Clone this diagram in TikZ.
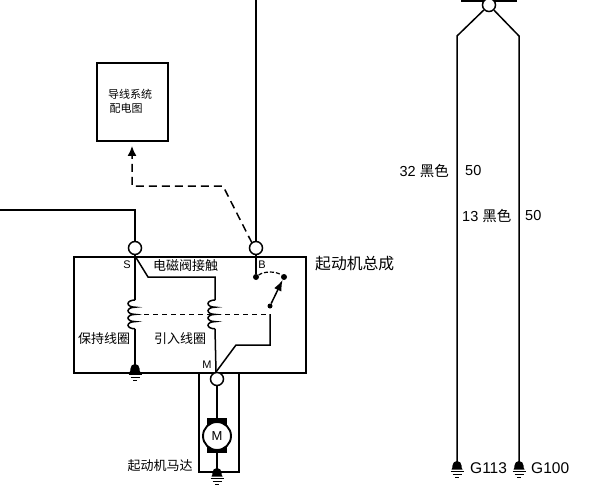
\documentclass[tikz,border=0pt]{standalone}
\usepackage{fontspec}
\setmainfont{Liberation Sans}
\newfontfamily\cjk{Noto Sans CJK SC}
\usetikzlibrary{arrows.meta}
\tikzset{
  wire/.style={line width=1.5pt,line join=miter},
  heavy/.style={line width=2.1pt},
  dashwire/.style={line width=1.5pt,dash pattern=on 8pt off 5pt},
  term/.style={circle,draw,line width=1.5pt,fill=white,minimum size=13pt,inner sep=0pt},
  dotn/.style={circle,fill=black,minimum size=6pt,inner sep=0pt},
  lab/.style={inner sep=0pt,font=\cjk\fontsize{13}{14}\selectfont},
  smalllab/.style={inner sep=0pt,font=\cjk\fontsize{11}{12}\selectfont},
  pin/.style={inner sep=0pt,font=\fontsize{11}{12}\selectfont},
  glab/.style={inner sep=0pt,anchor=west,font=\fontsize{14.5}{15}\selectfont},
  ground/.pic={
    \fill (-5.5,3.5) .. controls (-4.5,2.5) and (-4.5,1) .. (-4.5,-0.5) arc[start angle=180,end angle=0,radius=4.5pt] .. controls (4.5,1) and (4.5,2.5) .. (5.5,3.5) -- cycle;
    \draw[line width=1.3pt] (-6.5,5.5)--(6.5,5.5);
    \draw[line width=1.3pt] (-4.5,8.5)--(4.5,8.5);
    \draw[line width=1.3pt] (-2,11.5)--(2,11.5);
  }
}
\newcommand{\coilarcs}{arc[start angle=90,end angle=270,x radius=7pt,y radius=3.6pt] arc[start angle=90,end angle=270,x radius=7pt,y radius=3.6pt] arc[start angle=90,end angle=270,x radius=7pt,y radius=3.6pt] arc[start angle=90,end angle=270,x radius=7pt,y radius=3.6pt]}
\begin{document}
\begin{tikzpicture}[x=1pt,y=-1pt]
\useasboundingbox (0,0) rectangle (607,497);
% coordinates
\coordinate (w1) at (0,210);
\coordinate (w2) at (135,210);
\coordinate (w3) at (256,0);
\coordinate (sjoin) at (135,256);
\coordinate (s2) at (148,277);
\coordinate (s3) at (215,277);
\coordinate (s4) at (215,300);
\coordinate (c1a) at (135,300);
\coordinate (c1b) at (135,328.8);
\coordinate (c2b) at (215,328.8);
\coordinate (mjoin) at (216,372);
\coordinate (g1) at (135,369);
\coordinate (a1) at (270,345);
\coordinate (a2) at (236,345);
\coordinate (d1) at (135,314);
\coordinate (d2) at (270,314);
\coordinate (darr) at (132,146);
\coordinate (dc1) at (132,186);
\coordinate (dc2) at (223,186);
\coordinate (dc3) at (252,243);
\coordinate (bl) at (199,372);
\coordinate (bl2) at (199,472);
\coordinate (br2) at (239,472);
\coordinate (br) at (239,372);
\coordinate (g2) at (217,473);
\coordinate (tl) at (457,36);
\coordinate (tr) at (519,36);
\coordinate (gl) at (457,466);
\coordinate (gr) at (519,466);
% assembly box
\node[draw,heavy,minimum width=232pt,minimum height=116pt,inner sep=0pt,anchor=north west] (asm) at (73,256) {};
% left box
\node[draw,heavy,minimum width=71pt,minimum height=78pt,inner sep=0pt,anchor=north west] (sysbox) at (96,62) {};
% motor leads
\draw[heavy] (bl)--(bl2)--(br2)--(br);
% top bar
\draw[line width=2.4pt] (461,1)--(517,1);
% terminals
\node[term] (S) at (135,248) {};
\node[term] (B) at (256,248) {};
\node[term] (Mt) at (217,379) {};
\node[term] (top) at (489,5) {};
% wires
\draw[wire] (w1)--(w2)--(S);
\draw[wire] (w3)--(B);
\draw[wire] (S)--(sjoin)--(c1a);
\draw[wire] (c1a) \coilarcs;
\draw[wire] (c1b)--(g1);
\draw[wire] (sjoin)--(s2)--(s3)--(s4);
\draw[wire] (s4) \coilarcs;
\draw[wire] (c2b)--(mjoin);
\draw[wire] (mjoin)--(a2)--(a1)--(d2);
\draw[line width=1pt,dash pattern=on 5pt off 4pt] (d1)--(d2);
% switch
\node[dotn] (bd) at (256,277) {};
\node[dotn] (ad) at (284,277) {};
\node[dotn,minimum size=5pt] (pd) at (270,306) {};
\draw[wire] (B)--(bd);
\draw[line width=1.2pt,dash pattern=on 4pt off 2pt] (bd) .. controls (264,271) and (276,271) .. (ad);
\draw[wire,-{Latex[length=11pt,width=8pt]}] (pd)--(ad);
% dashed link
\draw[dashwire,-{Latex[length=10pt,width=9pt]}] (dc3)--(dc2)--(dc1)--(darr);
% motor
\node[fill=black,minimum width=20pt,minimum height=35pt,inner sep=0pt] (mb) at (217,435.5) {};
\node[circle,draw,line width=1.9pt,fill=white,minimum size=28pt,inner sep=0pt,font=\fontsize{13}{14}\selectfont] (motor) at (217,436) {M};
\draw[wire] (Mt)--(mb);
\draw[wire] (mb)--(g2);
% right side
\draw[wire] (top)--(tl)--(gl);
\draw[wire] (top)--(tr)--(gr);
% grounds
\pic at (g1) {ground};
\pic at (g2) {ground};
\pic at (gl) {ground};
\pic at (gr) {ground};
% labels
\node[smalllab] (t1) at (130,94) {导线系统};
\node[smalllab] (t2) at (126,108) {配电图};
\node[lab,anchor=west] (t3) at (315,264) {\fontsize{15.8}{16}\selectfont 起动机总成};
\node[lab] (t4) at (185.5,266) {电磁阀接触};
\node[lab] (t5) at (104,339) {保持线圈};
\node[lab] (t6) at (180,339) {引入线圈};
\node[lab] (t7) at (160,466) {起动机马达};
\node[pin] (pS) at (127,265) {S};
\node[pin] (pB) at (262,265) {B};
\node[pin] (pM) at (207,365) {M};
\node[glab,anchor=east] (l1) at (449,171) {32 {\cjk 黑色}};
\node[glab] (l2) at (465,171) {50};
\node[glab] (l3) at (462,216) {13 {\cjk 黑色}};
\node[glab] (l4) at (525,216) {50};
\node[glab,font=\fontsize{15.5}{16}\selectfont] (l5) at (470,468) {G113};
\node[glab,font=\fontsize{15.5}{16}\selectfont] (l6) at (531,468) {G100};
\end{tikzpicture}
\end{document}
